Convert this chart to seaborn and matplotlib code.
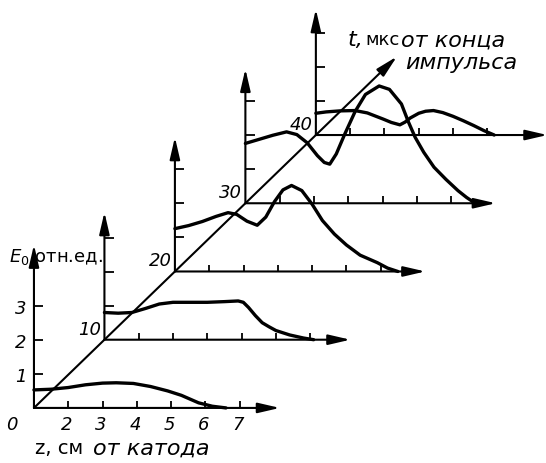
import numpy as np
import pandas as pd
import matplotlib
matplotlib.use("Agg")
import matplotlib.pyplot as plt
import seaborn as sns

# ---------------- data ----------------
t_values = [0, 10, 20, 30, 40]
t_labels = ["0", "10", "20", "30", "40"]
z_ticks = [2, 3, 4, 5, 6, 7]
z_tick_labels = ["2", "3", "4", "5", "6", "7"]
e_ticks = [1, 2, 3]
e_tick_labels = ["1", "2", "3"]
z_origin = 1.0   # z (cm) at each panel's origin

z_t0 = [1.0, 1.5, 2.0, 2.5, 3.0, 3.4, 3.9, 4.4, 4.9, 5.3, 5.8, 6.2, 6.6]
e_t0 = [0.53, 0.55, 0.60, 0.68, 0.73, 0.74, 0.72, 0.63, 0.50, 0.37, 0.15, 0.05, 0.0]

z_t10 = [1.0, 1.4, 1.8, 2.2, 2.6, 3.0, 3.5, 4.0, 4.5, 4.9, 5.05, 5.2, 5.4, 5.6, 5.8, 6.0, 6.4, 6.8, 7.1]
e_t10 = [0.80, 0.78, 0.80, 0.92, 1.05, 1.10, 1.10, 1.10, 1.12, 1.14, 1.10, 0.95, 0.71, 0.50, 0.38, 0.27, 0.14, 0.05, 0.0]

z_t20 = [1.0, 1.4, 1.8, 2.2, 2.55, 2.8, 3.1, 3.4, 3.65, 3.9, 4.15, 4.4, 4.7, 5.0, 5.3, 5.65, 6.0, 6.4, 6.9, 7.2, 7.5]
e_t20 = [1.26, 1.35, 1.47, 1.62, 1.73, 1.68, 1.48, 1.36, 1.60, 2.05, 2.40, 2.53, 2.38, 1.98, 1.50, 1.10, 0.78, 0.48, 0.26, 0.10, 0.0]

z_t30 = [1.0, 1.4, 1.8, 2.2, 2.5, 2.8, 3.1, 3.3, 3.46, 3.65, 3.9, 4.2, 4.5, 4.9, 5.2, 5.55, 5.75, 5.95, 6.2, 6.5, 6.85, 7.2, 7.45, 7.7]
e_t30 = [1.76, 1.88, 2.00, 2.10, 2.02, 1.78, 1.40, 1.20, 1.15, 1.45, 2.04, 2.70, 3.20, 3.45, 3.35, 2.92, 2.40, 1.94, 1.50, 1.06, 0.70, 0.37, 0.17, 0.0]

z_t40 = [1.0, 1.3, 1.7, 2.14, 2.5, 2.96, 3.2, 3.45, 3.6, 3.75, 4.0, 4.2, 4.43, 4.7, 5.0, 5.3, 5.6, 5.9, 6.2]
e_t40 = [0.64, 0.68, 0.71, 0.72, 0.65, 0.47, 0.37, 0.30, 0.38, 0.50, 0.64, 0.70, 0.72, 0.66, 0.55, 0.42, 0.28, 0.13, 0.0]

curves_z = [z_t0, z_t10, z_t20, z_t30, z_t40]
curves_e = [e_t0, e_t10, e_t20, e_t30, e_t40]

# ---------------- layout (pseudo-3D projection) ----------------
KX = 0.2055          # horizontal shift per microsecond
KY = 0.2007          # vertical shift per microsecond
T_AXIS_END = 51.5
X_AXIS_LEN = [7.17, 7.17, 7.3, 7.3, 6.75]
Y_AXIS_LEN = [4.8, 3.75, 3.95, 3.95, 3.7]
N_ZTICKS = [6, 6, 6, 6, 5]
XT_LEN = 0.2
YT_LEN = 0.27

def proj(z, e, t):
    return np.asarray(z, float) - z_origin + t * KX, np.asarray(e, float) + t * KY

rows = []
for t, zs, es in zip(t_values, curves_z, curves_e):
    X, Y = proj(zs, es, t)
    for i, (x, y) in enumerate(zip(X, Y)):
        rows.append({"t": t, "i": i, "X": x, "Y": y})
df = pd.DataFrame(rows)

sns.set_theme(style="white")
plt.rcParams["font.family"] = ["DejaVu Sans"]

fig = plt.figure(figsize=(5.46, 4.63), dpi=100)
ax = fig.add_axes([0, 0, 1, 1])
XL, YL = (-0.99, 14.93), (-1.62, 12.0)
ax.set_xlim(*XL)
ax.set_ylim(*YL)
ax.axis("off")

AX_LW = 1.5
arrow_kw = dict(arrowstyle="-|>,head_length=0.95,head_width=0.22", lw=AX_LW,
                color="black", mutation_scale=14, shrinkA=0, shrinkB=0)

def arrow(x0, y0, x1, y1):
    ax.annotate("", xy=(x1, y1), xytext=(x0, y0), arrowprops=arrow_kw,
                annotation_clip=False)

# diagonal t axis
x0, y0 = proj(z_origin, 0, 0)
x1, y1 = proj(z_origin, 0, T_AXIS_END)
arrow(float(x0), float(y0), float(x1), float(y1))

tick_font = dict(style="italic", fontsize=13, color="black")

for k, t in enumerate(t_values):
    ox, oy = proj(z_origin, 0, t)
    ox, oy = float(ox), float(oy)
    arrow(ox, oy, ox + X_AXIS_LEN[k], oy)
    arrow(ox, oy, ox, oy + Y_AXIS_LEN[k])
    zx, _ = proj(z_ticks[:N_ZTICKS[k]], 0, t)
    ax.vlines(zx, oy, oy + XT_LEN, color="black", lw=1.3)
    _, ey = proj(z_origin, e_ticks, t)
    ax.hlines(ey, ox, ox + YT_LEN, color="black", lw=1.3)
    if t == 0:
        ax.text(ox - 0.65, oy - 0.5, t_labels[k], ha="center", va="center", **tick_font)
    else:
        ax.text(ox - 0.1, oy + 0.3, t_labels[k], ha="right", va="center", **tick_font)

zx0, _ = proj(z_ticks, 0, 0)
for x, lab in zip(zx0, z_tick_labels):
    ax.text(x - 0.05, -0.5, lab, ha="center", va="center", **tick_font)
_, ey0 = proj(z_origin, e_ticks, 0)
for y, lab in zip(ey0, e_tick_labels):
    ax.text(-0.38, y - 0.08, lab, ha="center", va="center", **tick_font)

# curves
sns.lineplot(data=df, x="X", y="Y", units="t", estimator=None, sort=False,
             color="black", lw=2.4, ax=ax, legend=False)
for line in ax.lines:
    line.set_solid_capstyle("round")
    line.set_solid_joinstyle("round")
ax.set_xlim(*XL)
ax.set_ylim(*YL)
ax.axis("off")

# axis titles (pieces placed one after another)
renderer = fig.canvas.get_renderer()
inv = ax.transData.inverted()

def chain(x, y, parts, gap_px=4):
    for txt, kw in parts:
        tobj = ax.text(x, y, txt, ha="left", va="center", color="black", **kw)
        bb = tobj.get_window_extent(renderer=renderer)
        x = inv.transform((bb.x1 + gap_px, 0))[0]

UP = dict(fontsize=14)
UP_S = dict(fontsize=13)
IT = dict(fontsize=16, style="italic")

ax.text(-0.72, 4.3, r"$E_0$,отн.ед.", ha="left", va="baseline", fontsize=13, color="black")
chain(0.03, -1.2, [("z, см", UP), ("от катода", IT)], gap_px=10)
chain(9.13, 10.82, [("t,", IT), ("мкс", UP_S), ("от конца", IT)], gap_px=2)
ax.text(10.82, 10.15, "импульса", ha="left", va="center", color="black", **IT)

fig.savefig("out.png", dpi=100, facecolor="white")
